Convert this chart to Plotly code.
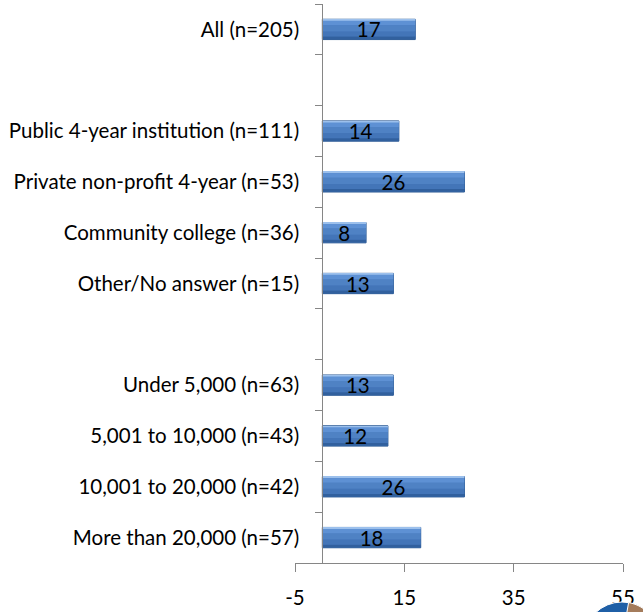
import math
import plotly.graph_objects as go

categories = [
    "All (n=205)",
    " ",
    "Public 4-year institution (n=111)",
    "Private non-profit 4-year (n=53)",
    "Community college (n=36)",
    "Other/No answer (n=15)",
    "  ",
    "Under 5,000 (n=63)",
    "5,001 to 10,000 (n=43)",
    "10,001 to 20,000 (n=42)",
    "More than 20,000 (n=57)",
]
values = [17, None, 14, 26, 8, 13, None, 13, 12, 26, 18]
x_ticks = [-5, 15, 35, 55]

W, H = 643, 612
L, R, T, B = 295, 20, 4, 49
pw, ph = W - L - R, H - T - B
FONT = "Lato"
FS = 20.5

labels = ["" if v is None else str(v) for v in values]

fig = go.Figure()
# base bar
fig.add_trace(go.Bar(
    y=categories, x=values, orientation="h", width=0.4,
    marker=dict(color="#4A7DC0", line=dict(color="#2F5C96", width=1)),
    hoverinfo="skip", showlegend=False,
))
# gradient bands (offset from top edge, thickness, colour)
bands = [
    (-0.195, 0.025, "#9CC0EC"),
    (-0.17, 0.09, "#5E91D4"),
    (-0.08, 0.12, "#4F82C4"),
    (0.04, 0.10, "#4375B8"),
    (0.14, 0.055, "#31609E"),
]
for off, wid, col in bands:
    fig.add_trace(go.Bar(
        y=categories, x=values, orientation="h", width=wid, offset=off,
        marker=dict(color=col, line=dict(width=0)),
        hoverinfo="skip", showlegend=False,
    ))
# text layer
fig.add_trace(go.Bar(
    y=categories, x=values, orientation="h", width=0.4,
    marker=dict(color="rgba(0,0,0,0)", line=dict(width=0)),
    text=labels, textposition="inside", insidetextanchor="middle",
    textangle=0, constraintext="none",
    textfont=dict(family=FONT, size=FS, color="black"),
    hoverinfo="skip", showlegend=False,
))

def px2paper(px, py):
    return (px - L) / pw, (H - B - py) / ph

# decorative logo fragment at bottom right
cx, cy, r = 622, 640, 38
x0, y1 = px2paper(cx - r, cy - r)
x1, y0 = px2paper(cx + r, cy + r)
shapes = [dict(type="circle", xref="paper", yref="paper", x0=x0, x1=x1, y0=y0, y1=y1,
               fillcolor="#1F5FA6", line=dict(color="white", width=1), layer="above")]
pts = []
for a in range(10, 121, 5):
    t = math.radians(a)
    pts.append(px2paper(cx + r * math.sin(t), cy - r * math.cos(t)))
c = px2paper(cx, cy)
path = f"M {c[0]},{c[1]} " + " ".join(f"L {p[0]},{p[1]}" for p in pts) + " Z"
shapes.append(dict(type="path", xref="paper", yref="paper", path=path,
                   fillcolor="#A47C5C", line=dict(color="white", width=1), layer="above"))

fig.update_layout(
    width=W, height=H,
    margin=dict(l=L, r=R, t=T, b=B, pad=0, autoexpand=False),
    paper_bgcolor="white", plot_bgcolor="white",
    barmode="overlay",
    font=dict(family=FONT, size=FS, color="black"),
    shapes=shapes,
)
fig.update_xaxes(
    range=[-5, 55], tickvals=x_ticks, ticktext=[str(t) for t in x_ticks],
    showgrid=False, zeroline=False, showline=True, linecolor="#868686", linewidth=1,
    ticks="outside", ticklen=8, tickcolor="#868686", ticklabelstandoff=8,
    tickfont=dict(family=FONT, size=FS, color="black"), fixedrange=True,
)
fig.update_yaxes(
    type="category", categoryorder="array", categoryarray=categories,
    range=[len(categories) - 0.5, -0.5],
    anchor="free", position=5 / 60,
    showgrid=False, zeroline=False, showline=True, linecolor="#868686", linewidth=1,
    ticks="outside", ticklen=7, tickcolor="#868686", tickson="boundaries",
    ticklabelstandoff=19,
    tickfont=dict(family=FONT, size=FS, color="black"), fixedrange=True,
)

fig.write_html("out.html", config={"displayModeBar": False},
               post_script="document.body.style.margin='0';document.body.style.overflow='hidden';")
